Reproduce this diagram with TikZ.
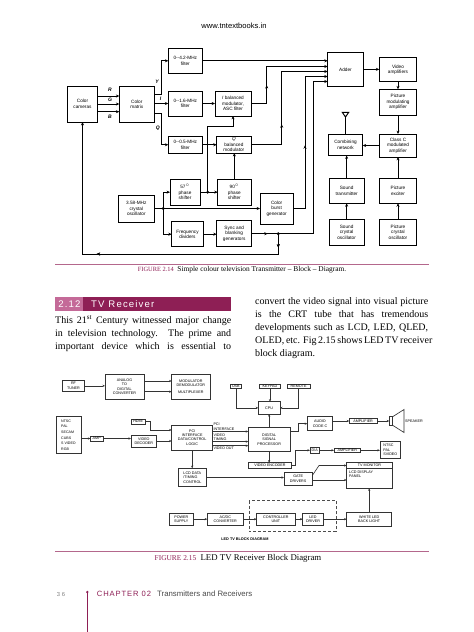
\documentclass[tikz,border=0pt]{standalone}
\usepackage{fontspec}
\setmainfont{Liberation Serif}
\newfontfamily\hv{Liberation Sans}
\newfontfamily\hvsp{Liberation Sans}[LetterSpace=12]
\usetikzlibrary{arrows.meta,decorations.markings}
\definecolor{maroon}{HTML}{8E1F55}
\definecolor{pinkc}{HTML}{C46A98}
\definecolor{rulec}{HTML}{B4678C}
\definecolor{lg}{HTML}{4A4A4A}
\newcommand\bx[7][box]{\node[#1, minimum width={(#5-#3)*1pt}, minimum height={(#6-#4)*1pt}] (#2) at ({(#3+#5)/2},{(#4+#6)/2}) {#7};}
\tikzset{
  box/.style={draw=black, line width=1pt, inner sep=0.3pt, outer sep=0pt, align=center, font=\hv\fontsize{4.7}{5.4}\selectfont},
  bb/.style={draw=black!80, line width=0.65pt, inner sep=0.2pt, outer sep=0pt, align=center, font=\hv\fontsize{3.7}{4.3}\selectfont, text=black},
  ar/.style={-{Stealth[length=3.4pt,width=3pt]}, line width=1pt, draw=black},
  ab/.style={-{Stealth[length=2.6pt,width=2.2pt]}, line width=0.65pt, draw=black!80},
  ln/.style={line width=1pt, draw=black},
  ma/.style={postaction={decorate}, decoration={markings, mark=at position #1 with {\arrow{Stealth[length=3.4pt,width=3pt]}}}},
  lab/.style={font=\hv\bfseries\itshape\fontsize{5}{5.5}\selectfont, inner sep=0},
  tl/.style={font=\hv\fontsize{3.7}{4.3}\selectfont, text=black, inner sep=0, anchor=west, align=left},
  body/.style={anchor=base west, inner sep=0, font=\fontsize{10}{13}\selectfont}
}
\begin{document}
\begin{tikzpicture}[x=1pt, y=-1pt]
\fill[white] (0,0) rectangle (474,632);
\useasboundingbox (0,0) rectangle (474,632);

% header
\node[font=\hv\fontsize{7.6}{9}\selectfont] (hdr) at (234,26) {www.tntextbooks.in};

% ===== Figure 2.14 =====
\bx{cam}{67.3}{86}{97.7}{122}{Color\\cameras}
\bx{mat}{119.3}{86.7}{154.3}{122}{Color\\matrix}
\bx{f42}{168.3}{48.3}{202.3}{73.3}{0--4.2-MHz\\filter}
\bx{f16}{168.3}{91}{202.3}{116}{0--1.6-MHz\\filter}
\bx{f05}{168.3}{136}{202.3}{153.5}{0--0.5-MHz\\filter}
\bx{imod}{215}{91}{251}{116}{\textit{I} balanced\\modulator,\\ASC filter}
\bx{qmod}{216.7}{136}{251}{153}{\textit{Q}\\balanced\\modulator}
\bx{p57}{170}{179.3}{200}{205}{57$^{\circ}$\\phase\\shifter}
\bx{p90}{217.7}{179.3}{251}{205}{90$^{\circ}$\\phase\\shifter}
\bx{osc}{118.3}{195}{154.3}{222}{3.58-MHz\\crystal\\oscillator}
\bx{fdiv}{171.7}{221.7}{203.3}{246.7}{Frequency\\dividers}
\bx{sync}{216.7}{220.7}{251.7}{246.7}{Sync and\\blanking\\generators}
\bx{burst}{260}{193}{293.3}{224}{Color\\burst\\generator}
\bx{adder}{327.7}{52.7}{363.3}{86}{Adder}
\bx{vamp}{379.3}{57.3}{416.7}{81.7}{Video\\amplifiers}
\bx{pma}{379.3}{89.3}{416.7}{115}{Picture\\modulating\\amplifier}
\bx{clc}{379.3}{134}{416.7}{157}{Class C\\modulated\\amplifier}
\bx{comb}{328.3}{134}{362.7}{155.5}{Combining\\network}
\bx{stx}{329.3}{178.3}{364}{203.3}{Sound\\transmitter}
\bx{sosc}{329.3}{219.3}{364}{245}{Sound\\crystal\\oscillator}
\bx{pex}{379.3}{178.3}{416.7}{203.3}{Picture\\exciter}
\bx{posc}{379.3}{219.3}{416.7}{245}{Picture\\crystal\\oscillator}

\foreach \yy in {96,104,111.7} \draw[ar] (cam.east |- 0,\yy) -- (mat.west |- 0,\yy);
\node[lab] (lR) at (110,90) {R};
\node[lab] (lG) at (110,100) {G};
\node[lab] (lB) at (110,116.5) {B};

\draw[ar] (mat.east |- 0,94) -- (161.7,94) |- (f42.west);
\draw[ar] (mat.east |- f16.west) -- (f16.west);
\draw[ar] (mat.east |- 0,113) -- (161.7,113) |- (f05.west);
\node[lab] (lY) at (157,82) {Y};
\node[lab] (lI) at (160.5,98.5) {I};
\node[lab] (lQ) at (157.7,128) {Q};

\draw[ar] (f16.east) -- (imod.west |- f16.east);
\draw[ar] (f05.east) -- (qmod.west |- f05.east);
\draw[ar] (f42.east) -- (adder.west |- f42.east);
\draw[ar, ma=0.3] (imod.east) -- (imod.east -| 266.7,0) |- (adder.west |- 0,66.5);
\draw[ar, ma=0.34] (qmod.east) -- (qmod.east -| 281.7,0) |- (adder.west |- 0,71.5);
\draw[ar, ma=0.45] (burst.east) -- (burst.east -| 305,0) |- (adder.west |- 0,76.5);
\draw[ar, ma=0.07] (sync.east) -- (sync.east -| 313.3,0) |- (adder.west |- 0,81.5);

\draw[ar] (adder.east) -- (vamp.west |- adder.east);
\draw[ar] (vamp.south) -- (pma.north);
\draw[ar] (pma.south) -- (clc.north);
\draw[ar] (clc.west) -- (comb.east |- clc.west);
\coordinate (ant) at (345.5,117);
\draw[ln] (comb.north) -- (ant);
\draw[ln] (ant) -- (342.3,112.3) -- (348.7,112.3) -- cycle;
\draw[ar] (stx.north) -- (stx.north |- comb.south);
\draw[ar] (sosc.north) -- (stx.south);
\draw[ar] (pex.north) -- (clc.south);
\draw[ar] (posc.north) -- (pex.south);

\coordinate (j1) at (163.3,208.5);
\coordinate (j2) at (207.7,192.15);
\coordinate (j3) at (278.3,233.7);
\draw[ar] (osc.east) -- (burst.west);
\draw[ar] (j1) |- (p57.west);
\draw[ar] (j1) |- (fdiv.west);
\draw[ar] (p57.east) -- (p90.west);
\draw[ar] (j2) -- (j2 |- 0,126.7) -| (imod.south);
\draw[ar] (p90.north) -- (p90.north |- qmod.south);
\draw[ar] (fdiv.east) -- (sync.west |- fdiv.east);
\draw[ar, ma=0.04, ma=0.58] (j3) -- (j3 |- 0,254) -| (cam.south);
\foreach \j in {j1,j2,j3} \fill[black] (\j) circle (1.6pt);

% caption 2.14
\draw[rulec, line width=0.7pt] (55,264) -- (429,264);
\node[anchor=base, inner sep=0] (cap1) at (242,271) {\fontsize{7.4}{9}\selectfont{\color{maroon}\fontsize{6.4}{9}\selectfont FIGURE 2.14}\enspace Simple colour television Transmitter -- Block -- Diagram.};

% heading
\fill[pinkc] (55,296.7) rectangle (83.3,310.7);
\fill[maroon] (83.3,296.7) rectangle (231.3,310.7);
\node[font=\hvsp\fontsize{9.6}{11}\selectfont, text=white, inner sep=0] (hnum) at (69.5,303.9) {2.12};
\node[font=\hvsp\fontsize{9.6}{11}\selectfont, text=white, inner sep=0, anchor=west] (htit) at (91,303.9) {TV Receiver};

% body text
\node[body] (t1) at (55,323.5) {\makebox[176pt][s]{This 21\textsuperscript{st} Century witnessed major change}};
\node[body] (t2) at (55,336.5) {\makebox[176pt][s]{in television technology. The prime and}};
\node[body] (t3) at (55,349.5) {\makebox[176pt][s]{important device which is essential to}};
\node[body] (r1) at (255,304.5) {\makebox[173pt][s]{convert the video signal into visual picture}};
\node[body] (r2) at (255,317.5) {\makebox[173pt][s]{is the CRT tube that has tremendous}};
\node[body] (r3) at (255,330.5) {\makebox[173pt][s]{developments such as LCD, LED, QLED,}};
\node[body] (r4) at (255,343.5) {\makebox[173pt][s]{OLED, etc. Fig 2.15 shows LED TV receiver}};
\node[body] (r5) at (255,356.5) {block diagram.};

% ===== Figure 2.15 =====
\bx[bb]{rf}{62.7}{380}{84.3}{391.7}{RF\\TUNER}
\bx[bb]{adc}{105}{374}{144}{399.3}{ANALOG\\TO\\DIGITAL\\CONVERTER}
\bx[bb]{mux}{171.7}{374}{210}{399.3}{MODULATOR\\DEMODULATOR\\[3pt]MULTIPLEXER}
\draw[ab] (rf.east) -- (adc.west |- rf.east);
\draw[ab] (adc.east |- 0,381) -- (mux.west |- 0,381);
\draw[ab] (adc.east |- 0,391.7) -- (mux.west |- 0,391.7);

\bx[bb, align=left, font=\hv\fontsize{3.6}{5.6}\selectfont]{ntsc}{56}{416.7}{81}{453.3}{NTSC\\PAL\\SECAM\\CUBS\\S VIDEO\\RGB}
\bx[bb]{amp}{90.5}{436}{103}{441}{AMP}
\draw[ab] (ntsc.east |- amp.west) -- (amp.west);
\bx[bb]{vdec}{131}{435}{156.7}{447.3}{VIDEO\\DECODER}
\draw[ab] (amp.east) -- (vdec.west |- amp.east);
\bx[bb]{hdmi}{131}{419.3}{145}{424}{HDMI}
\bx[bb]{pci}{171.7}{425}{212.7}{450}{PCI\\INTERFACE\\DATA/CONTROL\\LOGIC}
\draw[ab] (hdmi.east) -- (hdmi.east -| 150,0) |- (pci.west |- 0,430);
\draw[ab] (vdec.east |- 0,441) -- (pci.west |- 0,441);

\bx[bb]{dsp}{248.3}{427.3}{290}{451.7}{DIGITAL\\SIGNAL\\PROCESSOR}
\node[tl] (lp1) at (213.3,424.3) {PCI};
\node[tl] (lp2) at (213.3,428.8) {INTERFACE};
\node[tl] (lp3) at (213.3,435.2) {VIDEO};
\node[tl] (lp4) at (213.3,439.2) {TIMING};
\node[tl] (lp5) at (213.3,448.3) {VIDEO OUT};
\draw[ab] (pci.east |- 0,431.5) -- (dsp.west |- 0,431.5);
\draw[ab] (pci.east |- 0,441.6) -- (dsp.west |- 0,441.6);
\draw[ab] (pci.east |- 0,445.7) -- (dsp.west |- 0,445.7);

\bx[bb]{cpu}{258.3}{401.7}{280}{414}{CPU}
\bx[bb]{usb}{230}{384}{241.7}{388.3}{USB}
\bx[bb]{kp}{259.3}{384}{280.7}{388.3}{KEYPAD}
\bx[bb]{rem}{287.3}{384}{310}{388.3}{REMOTE}
\draw[ab] (usb.south) |- (cpu.west);
\draw[ab] (kp.south) -- (kp.south |- cpu.north);
\draw[ab] (rem.south) |- (cpu.east);
\draw[ab] (dsp.north) -- (dsp.north |- cpu.south);

\bx[bb]{acod}{307.3}{416.7}{332.7}{430.7}{AUDIO\\CODE C}
\draw[ab] (dsp.east |- 0,431.7) -- (298.3,431.7) |- (acod.west);
\bx[bb]{ampa}{349.3}{418.5}{377}{423.5}{AMPLIFIER}
\draw[ab] (acod.east |- ampa.west) -- (ampa.west);
\node[draw=black!80, line width=0.65pt, minimum width=3.4pt, minimum height=8.6pt, inner sep=0, outer sep=0] (spk) at (391,421) {};
\draw[ab] (ampa.east) -- (spk.west);
\draw[black!80, line width=0.65pt] (spk.north east) -- (404,409.5) -- (404,432.5) -- (spk.south east);
\node[tl] (spl) at (405,421) {SPEAKER};

\bx[bb]{venc}{248.3}{462.7}{291.7}{468.3}{VIDEO ENCODER}
\draw[ab] (dsp.south) -- (dsp.south |- venc.north);
\bx[bb]{da}{310}{447.3}{319.3}{453.3}{D/A}
\draw[ab] (venc.east) -- (venc.east -| 295,0) |- (da.west);
\bx[bb]{ampb}{334}{448.3}{360.7}{452.3}{AMPLIFIER}
\draw[ab] (da.east) -- (ampb.west);
\bx[bb, align=left]{ntsc2}{380}{441.7}{400.7}{458.3}{NTSC\\PAL\\SVIDEO}
\draw[ab] (ampb.east) -- (ntsc2.west |- ampb.east);

\bx[bb]{tvm}{346.7}{462.7}{392.3}{488.3}{}
\draw[black!80, line width=0.65pt] (tvm.west |- 0,468.3) -- (tvm.east |- 0,468.3);
\node[tl, anchor=center] (tvt) at (369.5,465.6) {TV MONITOR};
\node[tl, anchor=north west] (tvp) at (349,470.6) {LCD DISPLAY\\PANEL};
\bx[bb]{gate}{284}{472.7}{312.3}{485}{GATE\\DRIVERS}
\bx[bb, align=left]{lcd}{178.3}{468.3}{206.7}{486.7}{LCD DATA\\/TIMING\\CONTROL}
\draw[ab] (pci.south) -- (pci.south |- lcd.north);
\draw[ab] (lcd.east) -- (gate.west |- lcd.east);
\draw[ab] (gate.east |- 0,475.5) -- (319,465.5) -- (tvm.west |- 0,465.5);
\draw[ab] (gate.east |- 0,480) -- (tvm.west |- 0,480);

\draw[black!70, line width=0.65pt, dash pattern=on 3pt off 2pt] (249.3,500.7) rectangle (336,531.7);
\bx[bb]{ps}{169.3}{513.3}{193.3}{525}{POWER\\SUPPLY}
\bx[bb]{acdc}{207.3}{513.3}{243.3}{525}{AC/DC\\CONVERTER}
\bx[bb]{ctrl}{256.7}{513.3}{295}{525}{CONTROLLER\\UNIT}
\bx[bb]{led}{302.7}{513.3}{323.3}{525}{LED\\DRIVER}
\bx[bb]{wled}{346.7}{512}{391.7}{526.3}{WHITE LED\\BACK LIGHT}
\draw[ab] (ps.east) -- (acdc.west);
\draw[ab] (acdc.east) -- (ctrl.west);
\draw[ab] (ctrl.east) -- (led.west);
\draw[ab] (led.east) -- (wled.west |- led.east);
\draw[ab] (wled.north) -- (wled.north |- tvm.south);
\node[font=\hv\bfseries\fontsize{3.8}{4.4}\selectfont, text=black] (ledt) at (245,539.5) {LED TV BLOCK DIAGRAM};

% caption 2.15
\draw[rulec, line width=0.7pt] (55,551) -- (429,551);
\node[anchor=base, inner sep=0] (cap2) at (238,560) {\fontsize{8.8}{10}\selectfont{\color{maroon}\fontsize{7.4}{10}\selectfont FIGURE 2.15}\enspace LED TV Receiver Block Diagram};

% footer
\node[font=\hv\fontsize{5.8}{7}\selectfont, text=gray, inner sep=0] (pg) at (61,594) {3\,\,6};
\coordinate (fl) at (87.3,592);
\draw[maroon, line width=0.9pt] (fl) -- (87.3,632);
\fill[maroon] (fl) circle (1.3pt);
\node[font=\hvsp\fontsize{7.6}{9}\selectfont, text=maroon, inner sep=0, anchor=west] (ch) at (96.7,594) {CHAPTER 02};
\node[font=\hv\fontsize{7.8}{9}\selectfont, text=lg, inner sep=0, anchor=west] (cht) at (157,594) {Transmitters and Receivers};
\end{tikzpicture}
\end{document}
